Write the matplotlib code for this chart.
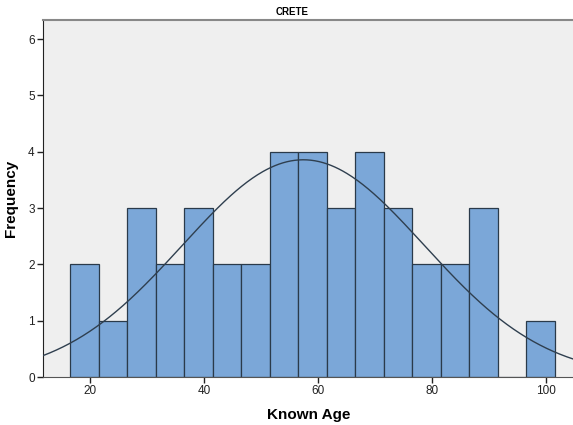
import numpy as np
import matplotlib
matplotlib.use("Agg")
import matplotlib.pyplot as plt

plt.rcParams["font.family"] = ["Liberation Sans", "DejaVu Sans"]

# Data
bin_left_edges = [16.5, 21.5, 26.5, 31.5, 36.5, 41.5, 46.5, 51.5, 56.5, 61.5,
                  66.5, 71.5, 76.5, 81.5, 86.5, 91.5, 96.5]
counts = [2, 1, 3, 2, 3, 2, 2, 4, 4, 3, 4, 3, 2, 2, 3, 0, 1]
bin_width = 5
curve_mean = 57.4
curve_sd = 21.2
x_ticks = [20, 40, 60, 80, 100]
y_ticks = [0, 1, 2, 3, 4, 5, 6]
title = "CRETE"
x_label = "Known Age"
y_label = "Frequency"

fig = plt.figure(figsize=(5.73, 4.25), dpi=100)
ax = fig.add_axes([43/573, 48/425, 1 - 43/573 + 0.002, (377-20)/425])
ax.set_facecolor("#efefef")

ax.bar(bin_left_edges, counts, width=bin_width, align="edge",
       color="#7ba7d8", edgecolor="#2a3a4a", linewidth=0.9, zorder=2)

n_total = sum(counts)
xs = np.linspace(11.75, 105, 400)
ys = n_total * bin_width / (curve_sd * np.sqrt(2 * np.pi)) * np.exp(-0.5 * ((xs - curve_mean) / curve_sd) ** 2)
ax.plot(xs, ys, color="#2f3f4f", linewidth=1.0, zorder=3)

ax.set_xlim(11.75, 104.9)
ax.set_ylim(0, 6.34)
ax.set_xticks(x_ticks)
ax.set_yticks(y_ticks)
ax.tick_params(axis="both", labelsize=8.5, length=4, width=1, colors="#222222", pad=2)

ax.spines["right"].set_visible(False)
ax.spines["top"].set_color("#888888")
ax.spines["top"].set_linewidth(1.5)
ax.spines["left"].set_color("#222222")
ax.spines["bottom"].set_color("#555555")

ax.set_xlabel(x_label, fontsize=11, fontweight="bold", labelpad=8)
ax.set_ylabel(y_label, fontsize=11, fontweight="bold", labelpad=7)
fig.text(292/573, 1 - 12/425, title, fontsize=7, fontweight="bold", ha="center", va="center")

fig.savefig("out.png", dpi=100)
